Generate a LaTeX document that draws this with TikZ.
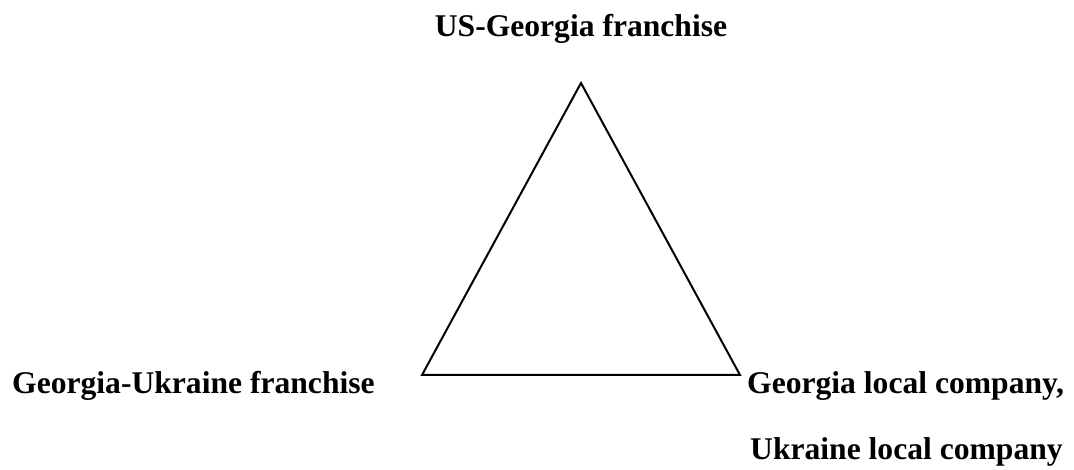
\documentclass[tikz,border=0pt]{standalone}
\usepackage{fontspec}
\setmainfont{Liberation Serif}
\usepackage{tikz}
\usetikzlibrary{positioning}

\begin{document}
\begin{tikzpicture}[
  x=1pt, y=-1pt,
  lbl/.style={font=\bfseries\fontsize{31.6}{38}\selectfont, inner sep=0pt},
  edge/.style={line width=2pt, draw=black, line join=miter}
]
\useasboundingbox (0,0) rectangle (1074,470);
% corners of the triangle
\coordinate (usgeo) at (581,83);
\coordinate (geoukr) at (422,375);
\coordinate (local) at (740,375);
\draw[edge] (usgeo) -- (geoukr) -- (local) -- cycle;
% labels
\node[lbl, anchor=base] (usgeolbl) at (581,37) {US-Georgia franchise};
\node[lbl, anchor=base west] (geoukrlbl) at (12,393) {Georgia-Ukraine franchise};
\node[lbl, anchor=base west] (geolbl) at (747,393) {Georgia local company,};
\node[lbl, anchor=base west] (ukrlbl) at (750,459) {Ukraine local company};
\end{tikzpicture}
\end{document}
